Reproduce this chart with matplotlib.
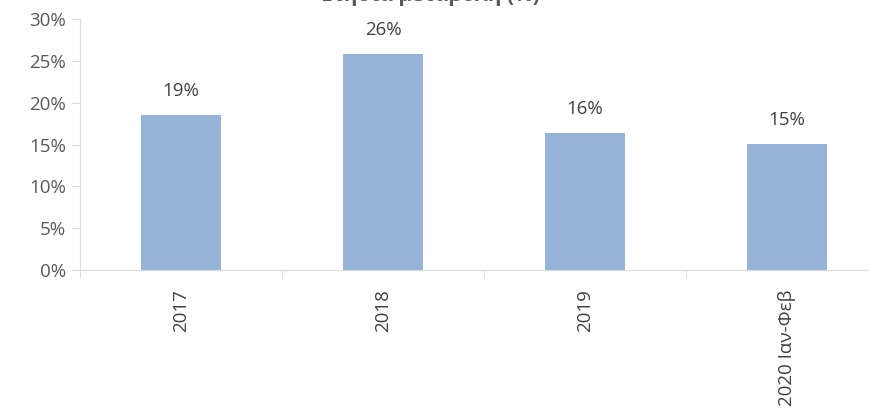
import matplotlib
matplotlib.use("Agg")
import matplotlib.pyplot as plt
from matplotlib.ticker import PercentFormatter

# data
categories = ["2017", "2018", "2019", "2020 Ιαν-Φεβ"]
values = [18.5, 25.8, 16.4, 15.1]
labels = ["19%", "26%", "16%", "15%"]
title = "Ετήσια μεταβολή (%)"

plt.rcParams['font.family'] = ['Open Sans', 'DejaVu Sans']

fig = plt.figure(figsize=(8.69, 4.19), dpi=100)
ax = fig.add_axes([80/869, 149/419, 808/869, 251/419])

x = list(range(len(categories)))
bars = ax.bar(x, values, width=0.4, color="#95B3D7")

for xi, v, lab in zip(x, values, labels):
    ax.text(xi, v + 1.8, lab, ha="center", va="bottom", fontsize=13.5, color="#404040")

ax.set_xlim(-0.5, len(categories) - 0.5)
ax.set_ylim(0, 30)
ax.set_yticks([0, 5, 10, 15, 20, 25, 30])
ax.yaxis.set_major_formatter(PercentFormatter(decimals=0))
ax.set_xticks(x)
ax.set_xticklabels(categories, rotation=90, fontsize=13.5, color="#404040")
ax.set_xticks([-0.5, 0.5, 1.5, 2.5, 3.5], minor=True)
ax.tick_params(axis="x", which="major", length=0, pad=14)
ax.tick_params(axis="x", which="minor", length=6, color="#D9D9D9")
ax.tick_params(axis="y", length=6, color="#D9D9D9", labelsize=13.5, labelcolor="#595959", pad=4)

for s in ["top", "right"]:
    ax.spines[s].set_visible(False)
ax.spines["left"].set_color("#D9D9D9")
ax.spines["bottom"].set_color("#D9D9D9")

fig.text(430/869, 0.985, title, ha="center", va="bottom", fontsize=15,
         fontweight="bold", color="#595959")

plt.savefig("out.png", dpi=100)
